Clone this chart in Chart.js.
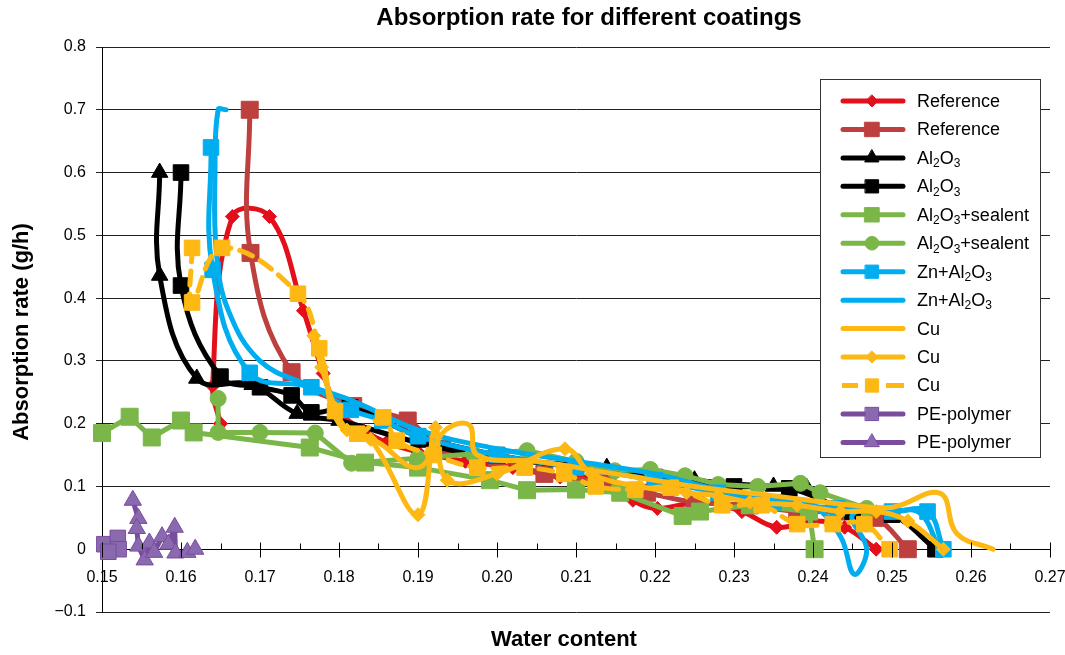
<!DOCTYPE html>
<html>
<head>
<meta charset="utf-8">
<title>Absorption rate for different coatings</title>
<script src="https://cdn.jsdelivr.net/npm/chart.js@4/dist/chart.umd.min.js"></script>
<style>
  html, body { margin: 0; padding: 0; background: #fff; }
  #wrap { width: 1065px; height: 655px; }
</style>
</head>
<body>
<div id="wrap"><canvas id="chart-area" width="1065" height="655"></canvas></div>
<script>
(function () {
  'use strict';

  // axis ticks
  var xTicks = [0.15, 0.16, 0.17, 0.18, 0.19, 0.20, 0.21, 0.22, 0.23, 0.24, 0.25, 0.26, 0.27];
  var yTicks = [-0.1, 0, 0.1, 0.2, 0.3, 0.4, 0.5, 0.6, 0.7, 0.8];

  // measured series, [water content, absorption rate]
  var refDiamond = [[0.1650, 0.200], [0.1640, 0.260], [0.1665, 0.530], [0.1712, 0.530], [0.1755, 0.380],
    [0.1780, 0.280], [0.1800, 0.220], [0.1830, 0.190], [0.1860, 0.170], [0.1900, 0.155], [0.1960, 0.140],
    [0.2020, 0.130], [0.2080, 0.115], [0.2140, 0.110], [0.2172, 0.078], [0.2203, 0.065], [0.2260, 0.075],
    [0.2310, 0.060], [0.2354, 0.035], [0.2400, 0.045], [0.2440, 0.035], [0.2480, 0.000]];
  var refSquare = [[0.1687, 0.700], [0.1688, 0.472], [0.1740, 0.282], [0.1818, 0.228], [0.1887, 0.205],
    [0.1930, 0.160], [0.2000, 0.145], [0.2060, 0.120], [0.2140, 0.105], [0.2190, 0.090], [0.2250, 0.075],
    [0.2320, 0.070], [0.2380, 0.060], [0.2440, 0.060], [0.2480, 0.050], [0.2520, 0.000]];
  var alTriangle = [[0.1573, 0.600], [0.1573, 0.436], [0.1620, 0.272], [0.1690, 0.262], [0.1747, 0.216],
    [0.1800, 0.205], [0.1900, 0.170], [0.2000, 0.145], [0.2139, 0.130], [0.2250, 0.110], [0.2350, 0.100],
    [0.2392, 0.098]];
  var alSquare = [[0.1600, 0.600], [0.1600, 0.420], [0.1650, 0.275], [0.1700, 0.258], [0.1740, 0.245],
    [0.1765, 0.218], [0.1814, 0.226], [0.1900, 0.180], [0.2000, 0.150], [0.2100, 0.130], [0.2200, 0.115],
    [0.2300, 0.100], [0.2370, 0.097], [0.2450, 0.060], [0.2500, 0.055], [0.2555, 0.000]];
  var sealSquare = [[0.1500, 0.185], [0.1535, 0.211], [0.1563, 0.178], [0.1600, 0.205], [0.1616, 0.186],
    [0.1763, 0.162], [0.1833, 0.138], [0.1900, 0.130], [0.1991, 0.110], [0.2038, 0.094], [0.2100, 0.095],
    [0.2156, 0.090], [0.2235, 0.053], [0.2257, 0.060], [0.2320, 0.070], [0.2395, 0.060], [0.2402, 0.000]];
  var sealCircle = [[0.1647, 0.240], [0.1647, 0.186], [0.1700, 0.186], [0.1770, 0.185], [0.1816, 0.137],
    [0.1900, 0.145], [0.1970, 0.152], [0.2038, 0.157], [0.2100, 0.140], [0.2149, 0.125], [0.2194, 0.127],
    [0.2238, 0.117], [0.2280, 0.103], [0.2330, 0.100], [0.2384, 0.105], [0.2409, 0.090], [0.2468, 0.065]];
  var znSquare = [[0.1638, 0.640], [0.1640, 0.445], [0.1687, 0.281], [0.1765, 0.258],
    [0.1815, 0.222], [0.1855, 0.205], [0.1900, 0.180], [0.2000, 0.150], [0.2100, 0.130], [0.2200, 0.110],
    [0.2280, 0.090], [0.2350, 0.075], [0.2430, 0.065], [0.2500, 0.060], [0.2545, 0.060], [0.2565, 0.000]];
  var znLine = [[0.1657, 0.700], [0.1647, 0.700], [0.1643, 0.600], [0.1645, 0.470], [0.1660, 0.380],
    [0.1700, 0.300], [0.1760, 0.262], [0.1820, 0.235], [0.1900, 0.190], [0.2000, 0.160], [0.2100, 0.140],
    [0.2200, 0.120], [0.2280, 0.095], [0.2360, 0.080], [0.2400, 0.070], [0.2435, 0.020], [0.2452, -0.040],
    [0.2468, 0.000], [0.2450, 0.055], [0.2500, 0.060], [0.2535, 0.058], [0.2560, 0.000]];
  var cuLine = [[0.1780, 0.300], [0.1800, 0.200], [0.1850, 0.170], [0.1900, 0.130], [0.1935, 0.190],
    [0.1965, 0.198], [0.1975, 0.150], [0.2050, 0.140], [0.2150, 0.120], [0.2250, 0.100], [0.2350, 0.085],
    [0.2450, 0.070], [0.2501, 0.067], [0.2561, 0.089], [0.2582, 0.025], [0.2628, 0.000]];
  var cuDiamond = [[0.1768, 0.340], [0.1778, 0.290], [0.1795, 0.225], [0.1810, 0.190], [0.1840, 0.175],
    [0.1900, 0.055], [0.1922, 0.194], [0.1937, 0.110], [0.2000, 0.120], [0.2086, 0.160], [0.2120, 0.120],
    [0.2180, 0.100], [0.2240, 0.090], [0.2280, 0.085], [0.2320, 0.075], [0.2380, 0.070], [0.2435, 0.060],
    [0.2480, 0.060], [0.2520, 0.045], [0.2565, 0.000]];
  var cuSquare = [[0.1614, 0.480], [0.1614, 0.393], [0.1652, 0.480], [0.1748, 0.407], [0.1775, 0.320],
    [0.1795, 0.220], [0.1823, 0.184], [0.1856, 0.210], [0.1873, 0.173], [0.1920, 0.150], [0.1975, 0.130],
    [0.2035, 0.130], [0.2085, 0.120], [0.2125, 0.100], [0.2175, 0.095], [0.2220, 0.098], [0.2285, 0.070],
    [0.2335, 0.070], [0.2380, 0.040], [0.2425, 0.040], [0.2465, 0.040], [0.2497, 0.000]];
  var peSquare = [[0.1503, 0.008], [0.1520, 0.018], [0.1521, 0.000], [0.1508, -0.004]];
  var peTriangle = [[0.1539, 0.078], [0.1546, 0.049], [0.1544, 0.033], [0.1546, 0.005], [0.1554, -0.017],
    [0.1560, 0.010], [0.1566, -0.005], [0.1576, 0.020], [0.1584, 0.008], [0.1592, 0.035], [0.1593, -0.006],
    [0.1608, -0.005], [0.1618, 0.000]];

  var RED = '#e3101c', BROWN = '#bd403e', BLACK = '#000000', GREEN = '#7ab648',
      BLUE = '#00aeef', GOLD = '#fdb813', PURPLE = '#7a4c9e', PURPLE_FILL = '#8a6aae';
  var FONT = "'Liberation Sans', Arial, sans-serif";

  var series = [
    { label: 'Reference', data: refDiamond, color: RED, marker: 'rectRot', r: 7 },
    { label: 'Reference', data: refSquare, color: BROWN, marker: 'rect', r: 12 },
    { label: 'Al₂O₃', data: alTriangle, color: BLACK, marker: 'triangle', r: 9.5 },
    { label: 'Al₂O₃', data: alSquare, color: BLACK, marker: 'rect', r: 11 },
    { label: 'Al₂O₃+sealent', data: sealSquare, color: GREEN, marker: 'rect', r: 12, straight: true },
    { label: 'Al₂O₃+sealent', data: sealCircle, color: GREEN, marker: 'circle', r: 8, straight: true },
    { label: 'Zn+Al₂O₃', data: znSquare, color: BLUE, marker: 'rect', r: 11 },
    { label: 'Zn+Al₂O₃', data: znLine, color: BLUE, marker: null, r: 0 },
    { label: 'Cu', data: cuLine, color: GOLD, marker: null, r: 0 },
    { label: 'Cu', data: cuDiamond, color: GOLD, marker: 'rectRot', r: 7 },
    { label: 'Cu', data: cuSquare, color: GOLD, marker: 'rect', r: 11, dash: [14, 9] },
    { label: 'PE-polymer', data: peSquare, color: PURPLE, fill: PURPLE_FILL, marker: 'rect', r: 11, straight: true },
    { label: 'PE-polymer', data: peTriangle, color: PURPLE, fill: PURPLE_FILL, marker: 'triangle', r: 10, straight: true }
  ];

  var datasets = series.map(function (s, i) {
    return {
      label: s.label,
      data: s.data.map(function (p) { return { x: p[0], y: p[1] }; }),
      showLine: true,
      borderColor: s.color,
      backgroundColor: s.fill || s.color,
      borderWidth: 5,
      borderCapStyle: 'round',
      borderJoinStyle: 'round',
      borderDash: s.dash || [],
      tension: s.straight ? 0 : 0.4,
      pointStyle: s.marker || 'circle',
      pointRadius: s.r,
      pointBorderWidth: 1,
      pointBorderColor: s.color,
      pointBackgroundColor: s.fill || s.color,
      clip: false,
      order: series.length - i
    };
  });

  function drawMarker(ctx, style, x, y, r) {
    ctx.beginPath();
    if (style === 'rect') {
      var h = r * Math.SQRT1_2;
      ctx.rect(x - h, y - h, 2 * h, 2 * h);
    } else if (style === 'rectRot') {
      ctx.moveTo(x, y - r); ctx.lineTo(x + r, y); ctx.lineTo(x, y + r); ctx.lineTo(x - r, y);
      ctx.closePath();
    } else if (style === 'triangle') {
      ctx.moveTo(x, y - r); ctx.lineTo(x + 0.866 * r, y + 0.5 * r); ctx.lineTo(x - 0.866 * r, y + 0.5 * r);
      ctx.closePath();
    } else {
      ctx.arc(x, y, r, 0, Math.PI * 2);
    }
    ctx.fill();
    ctx.stroke();
  }

  // text with the unicode subscript digits set lower and smaller
  function drawLabel(ctx, text, x, y) {
    var subs = { '₂': '2', '₃': '3' };
    for (var i = 0; i < text.length; i++) {
      var ch = text[i];
      if (subs[ch]) {
        ctx.font = '12px ' + FONT;
        ctx.fillText(subs[ch], x, y + 5);
        x += ctx.measureText(subs[ch]).width;
      } else {
        ctx.font = '18px ' + FONT;
        ctx.fillText(ch, x, y);
        x += ctx.measureText(ch).width;
      }
    }
  }

  var decorations = {
    id: 'decorations',
    afterDraw: function (chart) {
      var ctx = chart.ctx;
      var xs = chart.scales.x, ys = chart.scales.y;
      var axisY = Math.round(ys.getPixelForValue(0)) + 0.5;
      ctx.save();

      // x axis tick marks, major across the axis and minor above it
      ctx.strokeStyle = '#000';
      ctx.lineWidth = 1;
      ctx.beginPath();
      xTicks.forEach(function (v, i) {
        var px = Math.round(xs.getPixelForValue(v)) + 0.5;
        ctx.moveTo(px, axisY - 7); ctx.lineTo(px, axisY + 8);
        if (i < xTicks.length - 1) {
          var mx = Math.round(xs.getPixelForValue(v + 0.005)) + 0.5;
          ctx.moveTo(mx, axisY - 6); ctx.lineTo(mx, axisY);
        }
      });
      ctx.stroke();

      // titles
      ctx.fillStyle = '#000';
      ctx.textAlign = 'center';
      ctx.textBaseline = 'middle';
      ctx.font = 'bold 24px ' + FONT;
      ctx.fillText('Absorption rate for different coatings', 589, 18);
      ctx.font = 'bold 22px ' + FONT;
      ctx.fillText('Water content', 564, 640);
      ctx.save();
      ctx.translate(22, 332);
      ctx.rotate(-Math.PI / 2);
      ctx.fillText('Absorption rate (g/h)', 0, 0);
      ctx.restore();

      // legend box
      var bx = 820.5, by = 79.5, bw = 220, bh = 378;
      ctx.fillStyle = '#fff';
      ctx.fillRect(bx, by, bw, bh);
      ctx.strokeStyle = '#333';
      ctx.lineWidth = 1;
      ctx.strokeRect(bx, by, bw, bh);
      ctx.textAlign = 'left';
      series.forEach(function (s, i) {
        var ry = 101 + i * 28.45;
        ctx.strokeStyle = s.color;
        ctx.lineWidth = 5;
        ctx.lineCap = s.dash ? 'butt' : 'round';
        ctx.beginPath();
        if (s.dash) {
          ctx.moveTo(842, ry); ctx.lineTo(858, ry);
          ctx.moveTo(886, ry); ctx.lineTo(904, ry);
        } else {
          ctx.moveTo(843, ry); ctx.lineTo(903, ry);
        }
        ctx.stroke();
        if (s.marker) {
          ctx.fillStyle = s.fill || s.color;
          ctx.lineWidth = 1;
          drawMarker(ctx, s.marker, 872, ry, s.r * 0.85);
        }
        ctx.fillStyle = '#000';
        drawLabel(ctx, s.label, 917, ry + 1);
      });
      ctx.restore();
    }
  };

  var ctx = document.getElementById('chart-area').getContext('2d');
  window.absorptionChart = new Chart(ctx, {
    type: 'scatter',
    data: { datasets: datasets },
    options: {
      responsive: false,
      animation: false,
      devicePixelRatio: 1,
      layout: { padding: { top: 47, right: 15, bottom: 43, left: 0 } },
      plugins: {
        legend: { display: false },
        title: { display: false },
        tooltip: { enabled: false }
      },
      scales: {
        x: {
          type: 'linear',
          min: 0.15,
          max: 0.27,
          position: { y: 0 },
          afterBuildTicks: function (scale) {
            scale.ticks = xTicks.map(function (v) { return { value: v }; });
          },
          afterFit: function (scale) {
            scale.paddingLeft = 0;
            scale.paddingRight = 0;
          },
          ticks: {
            padding: 19,
            color: '#000',
            font: { family: FONT, size: 16 },
            maxRotation: 0,
            callback: function (v) { return Number(v).toFixed(2); }
          },
          grid: { display: false, drawTicks: false },
          border: { display: true, color: '#000', width: 1 }
        },
        y: {
          type: 'linear',
          min: -0.1,
          max: 0.8,
          afterFit: function (scale) {
            scale.width = 102;
            scale.paddingTop = 0;
            scale.paddingBottom = 0;
          },
          afterBuildTicks: function (scale) {
            scale.ticks = yTicks.map(function (v) { return { value: v }; });
          },
          ticks: {
            padding: 10,
            color: '#000',
            font: { family: FONT, size: 16 },
            callback: function (v) {
              if (Math.abs(v) < 1e-9) return '0';
              return v < 0 ? '\u2212' + Math.abs(v).toFixed(1) : v.toFixed(1);
            }
          },
          grid: { color: '#222', lineWidth: 1, tickLength: 6 },
          border: { display: true, color: '#000', width: 1 }
        }
      }
    },
    plugins: [decorations]
  });
})();
</script>
</body>
</html>
